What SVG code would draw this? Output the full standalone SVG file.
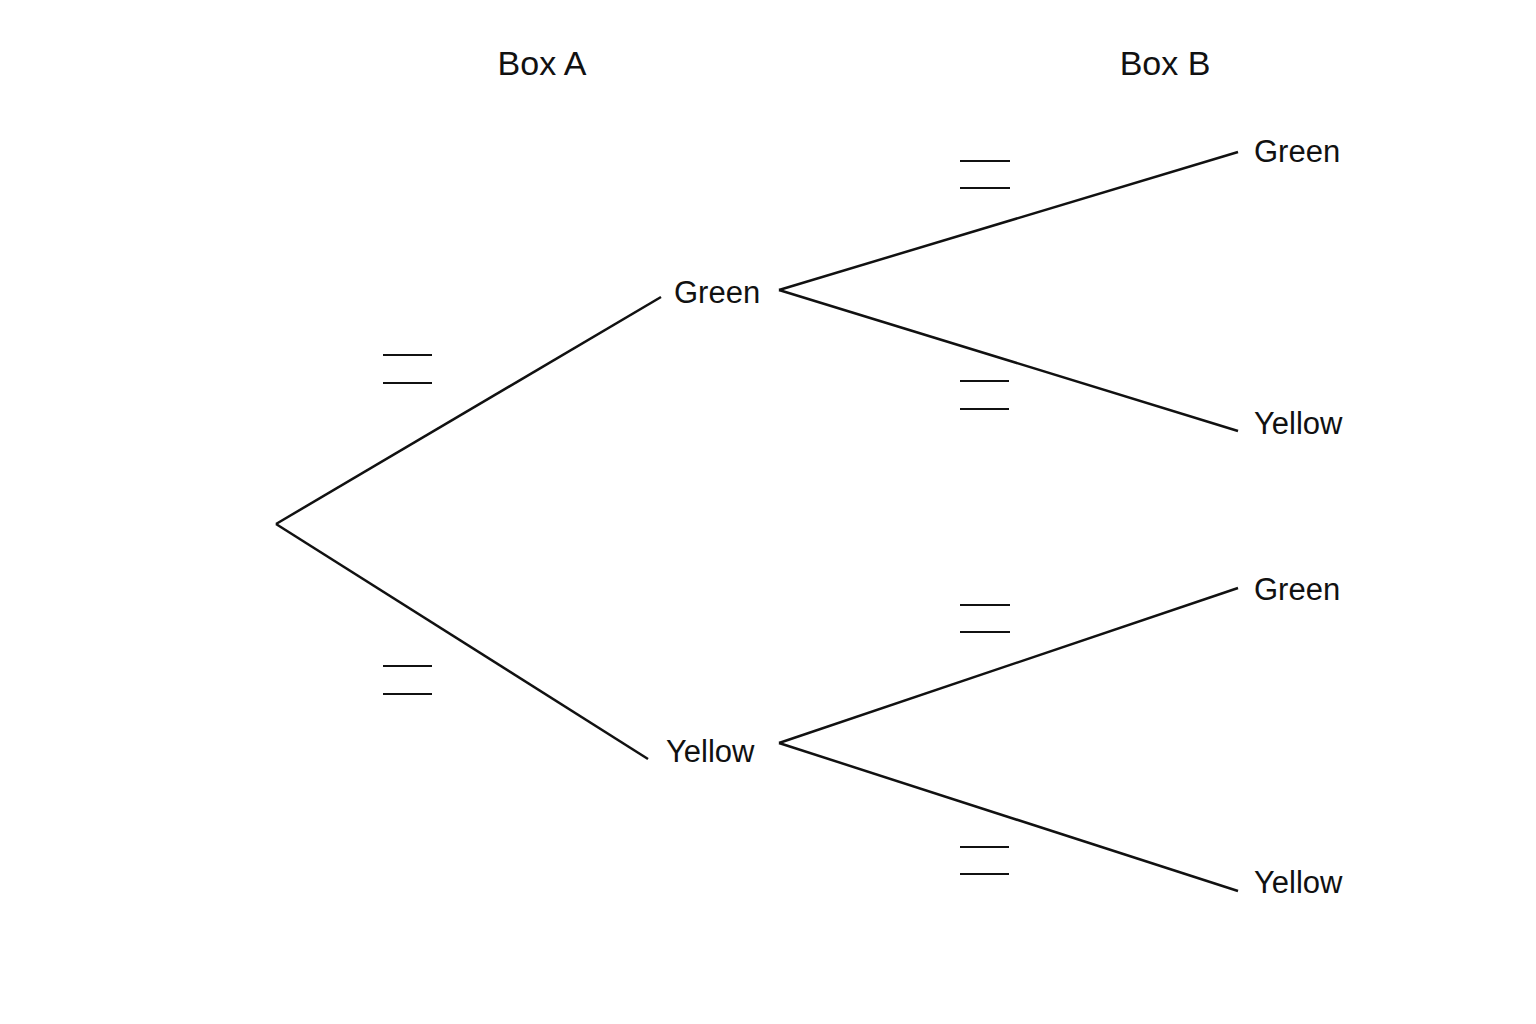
<svg xmlns="http://www.w3.org/2000/svg" width="1536" height="1024" viewBox="0 0 1536 1024">
<style>
.e{stroke:#111;stroke-width:2.5;fill:none}
.f{stroke:#111;stroke-width:2;fill:none}
text{font-family:"Liberation Sans",Arial,sans-serif;fill:#111;font-size:31px}
.h{font-size:34px;text-anchor:middle}
</style>
<rect width="1536" height="1024" fill="#fff"/>
<text class="h" x="542" y="75">Box A</text>
<text class="h" x="1165" y="75">Box B</text>
<g id="connectors">
<line class="e" x1="276" y1="524" x2="661" y2="297"/>
<line class="e" x1="276" y1="524" x2="648" y2="759"/>
<line class="e" x1="779" y1="290" x2="1238" y2="152"/>
<line class="e" x1="779" y1="290" x2="1238" y2="431"/>
<line class="e" x1="779" y1="743" x2="1238" y2="588"/>
<line class="e" x1="779" y1="743" x2="1238" y2="891"/>
</g>
<g id="blanks">
<path class="f" d="M383 355H432M383 383H432M383 666H432M383 694H432M960 161H1010M960 188H1010M960 381H1009M960 409H1009M960 605H1010M960 632H1010M960 847H1009M960 874H1009"/>
</g>
<g id="nA1"><text x="674" y="303">Green</text></g>
<g id="nA2"><text x="666" y="762">Yellow</text></g>
<g id="nB1"><text x="1254" y="162">Green</text></g>
<g id="nB2"><text x="1254" y="434">Yellow</text></g>
<g id="nB3"><text x="1254" y="600">Green</text></g>
<g id="nB4"><text x="1254" y="893">Yellow</text></g>
</svg>
